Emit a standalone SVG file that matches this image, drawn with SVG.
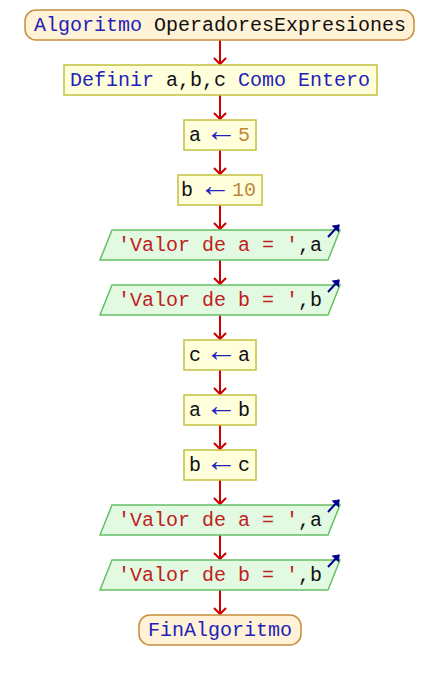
<svg xmlns="http://www.w3.org/2000/svg" width="440" height="680" viewBox="0 0 440 680">
<style>
text{font-family:"Liberation Mono","DejaVu Sans Mono",monospace;font-size:20px;text-anchor:middle}
text.l{text-anchor:start}
text.arr{font-family:"Liberation Serif","DejaVu Serif",serif;font-size:32px;fill:#2222bb;text-anchor:middle}
.term{fill:#fff2d6;stroke:#c88c3c;stroke-width:1.5}
.proc{fill:#ffffdc;stroke:#c4c040;stroke-width:1.5}
.out{fill:#e2fae2;stroke:#66c066;stroke-width:1.5}
.kw{fill:#2222bb}
.id{fill:#111}
.num{fill:#c08838}
.str{fill:#c02020}
.conn{stroke:#cc0000;stroke-width:2;fill:none;marker-end:url(#ah)}
.ico{stroke:#000090;stroke-width:2;fill:none;marker-end:url(#ih)}
</style>
<defs>
<marker id="ah" markerUnits="userSpaceOnUse" markerWidth="16" markerHeight="16" viewBox="-8 -8 16 16" refX="0" refY="0" orient="auto">
<path d="M-6,-6 L0,0 L-6,6" fill="none" stroke="#cc0000" stroke-width="2"/>
</marker>
<marker id="ih" markerUnits="userSpaceOnUse" markerWidth="12" markerHeight="12" viewBox="-6 -6 12 12" refX="0" refY="0" orient="auto">
<path d="M-5,-4 L0,0 L-5,4 Z" fill="#000090" stroke="#000090" stroke-width="1"/>
</marker>
</defs>
<g id="connectors">
<line class="conn" x1="220" y1="40" x2="220" y2="64"/>
<line class="conn" x1="220" y1="95" x2="220" y2="119"/>
<line class="conn" x1="220" y1="150" x2="220" y2="174"/>
<line class="conn" x1="220" y1="205" x2="220" y2="229"/>
<line class="conn" x1="220" y1="260" x2="220" y2="284"/>
<line class="conn" x1="220" y1="315" x2="220" y2="339"/>
<line class="conn" x1="220" y1="370" x2="220" y2="394"/>
<line class="conn" x1="220" y1="425" x2="220" y2="449"/>
<line class="conn" x1="220" y1="480" x2="220" y2="504"/>
<line class="conn" x1="220" y1="535" x2="220" y2="559"/>
<line class="conn" x1="220" y1="590" x2="220" y2="614"/>
</g>
<g id="start">
<rect class="term" x="25" y="10" width="389" height="30" rx="11"/>
<text x="220" y="31"><tspan class="kw">Algoritmo</tspan><tspan class="id"> OperadoresExpresiones</tspan></text>
</g>
<g id="definir">
<rect class="proc" x="64" y="65" width="313" height="30"/>
<text x="220" y="86"><tspan class="kw">Definir</tspan><tspan class="id"> a,b,c </tspan><tspan class="kw">Como Entero</tspan></text>
</g>
<g id="asig1">
<rect class="proc" x="184" y="120" width="72" height="30"/>
<text class="l id" x="189" y="141">a</text>
<text class="arr" x="221" y="141">←</text>
<text class="l num" x="238" y="141">5</text>
</g>
<g id="asig2">
<rect class="proc" x="178" y="175" width="84" height="30"/>
<text class="l id" x="181" y="196">b</text>
<text class="arr" x="215" y="196">←</text>
<text class="l num" x="232" y="196">10</text>
</g>
<g id="escribir1">
<polygon class="out" points="112,230 340,230 328,260 100,260"/>
<text x="220" y="251"><tspan class="str">'Valor de a = '</tspan><tspan class="id">,a</tspan></text>
<line class="ico" x1="328" y1="237" x2="339" y2="225"/>
</g>
<g id="escribir2">
<polygon class="out" points="112,285 340,285 328,315 100,315"/>
<text x="220" y="306"><tspan class="str">'Valor de b = '</tspan><tspan class="id">,b</tspan></text>
<line class="ico" x1="328" y1="292" x2="339" y2="280"/>
</g>
<g id="asig3">
<rect class="proc" x="184" y="340" width="72" height="30"/>
<text class="l id" x="189" y="361">c</text>
<text class="arr" x="221" y="361">←</text>
<text class="l id" x="238" y="361">a</text>
</g>
<g id="asig4">
<rect class="proc" x="184" y="395" width="72" height="30"/>
<text class="l id" x="189" y="416">a</text>
<text class="arr" x="221" y="416">←</text>
<text class="l id" x="238" y="416">b</text>
</g>
<g id="asig5">
<rect class="proc" x="184" y="450" width="72" height="30"/>
<text class="l id" x="189" y="471">b</text>
<text class="arr" x="221" y="471">←</text>
<text class="l id" x="238" y="471">c</text>
</g>
<g id="escribir3">
<polygon class="out" points="112,505 340,505 328,535 100,535"/>
<text x="220" y="526"><tspan class="str">'Valor de a = '</tspan><tspan class="id">,a</tspan></text>
<line class="ico" x1="328" y1="512" x2="339" y2="500"/>
</g>
<g id="escribir4">
<polygon class="out" points="112,560 340,560 328,590 100,590"/>
<text x="220" y="581"><tspan class="str">'Valor de b = '</tspan><tspan class="id">,b</tspan></text>
<line class="ico" x1="328" y1="567" x2="339" y2="555"/>
</g>
<g id="fin">
<rect class="term" x="139" y="615" width="162" height="30" rx="11"/>
<text x="220" y="636" class="kw">FinAlgoritmo</text>
</g>
</svg>
